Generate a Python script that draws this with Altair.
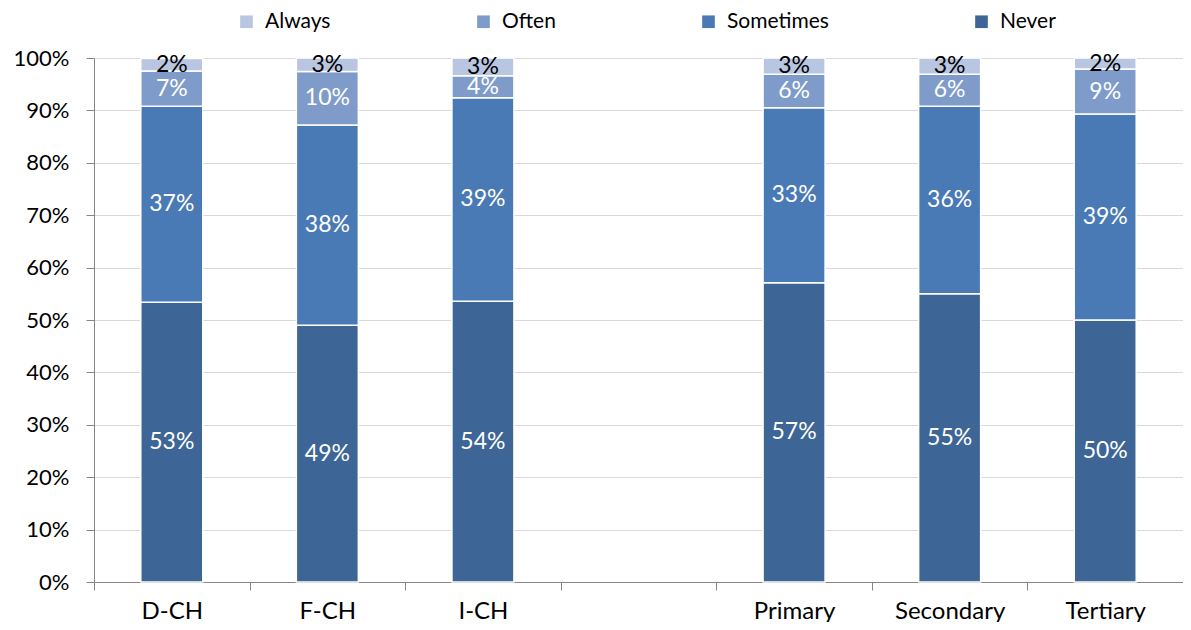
import altair as alt
import pandas as pd

categories = ["D-CH", "F-CH", "I-CH", "Primary", "Secondary", "Tertiary"]
domain = ["D-CH", "F-CH", "I-CH", " ", "Primary", "Secondary", "Tertiary"]
series = ["Always", "Often", "Sometimes", "Never"]
never = [53.4, 49.0, 53.6, 57.1, 55.0, 50.0]
sometimes = [37.4, 38.2, 38.8, 33.4, 35.8, 39.3]
often = [6.7, 10.2, 4.2, 6.4, 6.1, 8.6]
always = [2.4, 2.6, 3.4, 3.1, 3.1, 2.1]
colors = ["#B9C6E1", "#7E9BCA", "#4A7AB5", "#3D6596"]

rows = []
for i, c in enumerate(categories):
    for s, vals, o in [("Never", never, 0), ("Sometimes", sometimes, 1),
                       ("Often", often, 2), ("Always", always, 3)]:
        rows.append({"cat": c, "series": s, "value": vals[i] / 100.0, "ord": o})
df = pd.DataFrame(rows)

FONT = "Lato"

base = alt.Chart(df).transform_stack(
    stack="value", groupby=["cat"], as_=["y0", "y1"],
    sort=[alt.SortField("ord", order="ascending")]
).transform_calculate(
    ymid="(datum.y0 + datum.y1) / 2",
    label="format(datum.value, '.0%')"
)

xenc = alt.X("cat:N", scale=alt.Scale(domain=domain, paddingInner=0, paddingOuter=0),
             axis=alt.Axis(title=None, labelAngle=0, tickBand="extent", tickSize=8,
                           labelPadding=9, labelFontSize=24, labelFont=FONT,
                           labelColor="#000000", domainColor="#868686",
                           tickColor="#868686", grid=False))

bars = base.mark_bar(size=62, stroke="white", strokeWidth=1.5).encode(
    x=xenc,
    y=alt.Y("y0:Q", scale=alt.Scale(domain=[0, 1]),
            axis=alt.Axis(title=None, format=".0%", values=[i / 10 for i in range(11)],
                          labelFontSize=22, labelFont=FONT, labelColor="#000000",
                          tickSize=8, labelPadding=17, domainColor="#868686",
                          tickColor="#868686", gridColor="#D9D9D9", grid=True)),
    y2="y1:Q",
    color=alt.Color("series:N", scale=alt.Scale(domain=series, range=colors),
                    legend=alt.Legend(title=None, orient="none", direction="horizontal",
                                      columns=4, legendX=142, legendY=-47,
                                      symbolType="square", symbolSize=160,
                                      symbolStrokeWidth=0, labelFontSize=21,
                                      labelFont=FONT, labelColor="#000000",
                                      labelOffset=8, columnPadding=142, padding=0)),
)

labels = base.mark_text(fontSize=23, font=FONT).encode(
    x=alt.X("cat:N", scale=alt.Scale(domain=domain)),
    y=alt.Y("ymid:Q"),
    text="label:N",
    color=alt.Color("series:N", scale=alt.Scale(domain=series,
                    range=["#000000", "#FFFFFF", "#FFFFFF", "#FFFFFF"]), legend=None),
)

chart = alt.layer(bars, labels).resolve_scale(color="independent").properties(
    width=1089, height=524,
    autosize=alt.AutoSizeParams(type="none"),
    padding={"left": 86, "top": 50, "right": 0, "bottom": 40},
).configure_view(stroke=None)

chart.save("out.html", embed_options={"renderer": "svg", "actions": False})
